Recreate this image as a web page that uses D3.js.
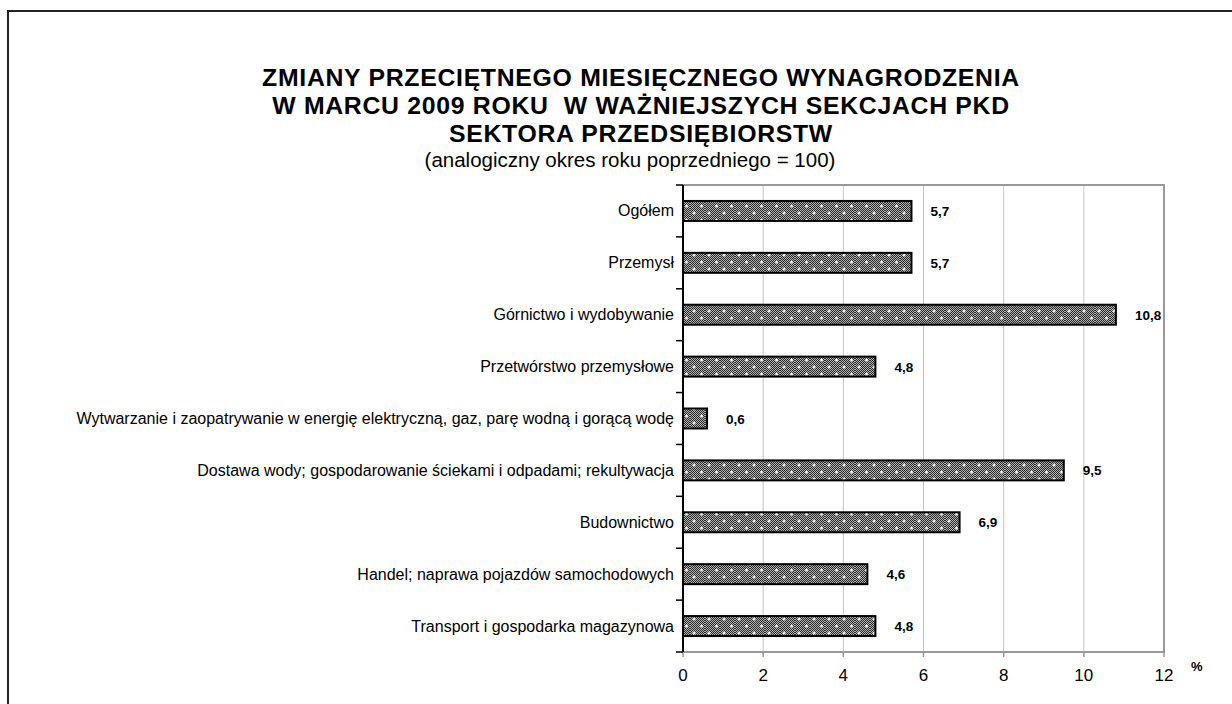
<!DOCTYPE html>
<html><head><meta charset="utf-8">
<script src="https://cdn.jsdelivr.net/npm/d3@7"></script>
<style>
html,body{margin:0;padding:0;background:#fff;}
svg{display:block;font-family:Arial,"Liberation Sans",sans-serif;}
</style></head>
<body>
<svg id="chart" width="1232" height="704"></svg>
<script>
const categories = [
  "Ogółem",
  "Przemysł",
  "Górnictwo i wydobywanie",
  "Przetwórstwo przemysłowe",
  "Wytwarzanie i zaopatrywanie w energię elektryczną, gaz, parę wodną i gorącą wodę",
  "Dostawa wody; gospodarowanie ściekami i odpadami; rekultywacja",
  "Budownictwo",
  "Handel; naprawa pojazdów samochodowych",
  "Transport i gospodarka magazynowa"
];
const values = [5.7, 5.7, 10.8, 4.8, 0.6, 9.5, 6.9, 4.6, 4.8];
const xTicks = [0, 2, 4, 6, 8, 10, 12];
const titleLines = [
  "ZMIANY PRZECIĘTNEGO MIESIĘCZNEGO WYNAGRODZENIA",
  "W MARCU 2009 ROKU  W WAŻNIEJSZYCH SEKCJACH PKD",
  "SEKTORA PRZEDSIĘBIORSTW"
];
const subtitle = "(analogiczny okres roku poprzedniego = 100)";
const unit = "%";

const svg = d3.select("#chart");
const fmt = v => String(v.toFixed(1)).replace(".", ",");

// outer frame
svg.append("rect").attr("x", 8).attr("y", 11).attr("width", 1260).attr("height", 740)
  .attr("fill", "none").attr("stroke", "#222").attr("stroke-width", 2);

// patterns
const defs = svg.append("defs");
const ck = defs.append("pattern").attr("id", "checker").attr("patternUnits", "userSpaceOnUse")
  .attr("width", 2).attr("height", 2);
ck.append("rect").attr("width", 2).attr("height", 2).attr("fill", "#b0b0b0");
ck.append("rect").attr("x", 0).attr("y", 0).attr("width", 1).attr("height", 1).attr("fill", "#2a2a2a");
ck.append("rect").attr("x", 1).attr("y", 1).attr("width", 1).attr("height", 1).attr("fill", "#2a2a2a");
const pt = defs.append("pattern").attr("id", "barpat").attr("patternUnits", "userSpaceOnUse")
  .attr("width", 15).attr("height", 14);
pt.append("rect").attr("width", 15).attr("height", 14).attr("fill", "url(#checker)");
[[4, 3], [11.5, 10]].forEach(([cx, cy]) => {
  pt.append("rect").attr("x", cx - 1.5).attr("y", cy - 0.5).attr("width", 3).attr("height", 1.2).attr("fill", "#fff");
  pt.append("rect").attr("x", cx - 0.5).attr("y", cy - 1.5).attr("width", 1.2).attr("height", 3).attr("fill", "#fff");
});

const x = d3.scaleLinear().domain([0, 12]).range([683, 1164]);
const y = d3.scaleBand().domain(categories).range([185, 652]).paddingInner(0.615).paddingOuter(0.3075);
const step = y.step();

// title
const t = svg.append("g").attr("text-anchor", "middle").attr("font-weight", "bold")
  .attr("font-size", 24.8).attr("letter-spacing", 0.7).attr("fill", "#000");
titleLines.forEach((l, i) => {
  t.append("text").attr("x", 641).attr("y", 86 + i * 28).attr("xml:space", "preserve").style("white-space", "pre").text(l);
});
svg.append("text").attr("x", 630).attr("y", 167).attr("text-anchor", "middle")
  .attr("font-size", 20.5).text(subtitle);

// gridlines
svg.append("g").selectAll("line").data(xTicks.filter(d => d > 0 && d < 12)).join("line")
  .attr("x1", d => x(d)).attr("x2", d => x(d)).attr("y1", 185).attr("y2", 656)
  .attr("stroke", "#c4c4c4").attr("stroke-width", 1);

// plot border top/right/bottom
svg.append("path")
  .attr("d", `M${x(0)},185H${x(12)}V652H${x(0)}`)
  .attr("fill", "none").attr("stroke", "#999").attr("stroke-width", 2);

// x axis ticks
svg.append("g").selectAll("line").data(xTicks).join("line")
  .attr("x1", d => x(d)).attr("x2", d => x(d)).attr("y1", 652).attr("y2", 657)
  .attr("stroke", "#999").attr("stroke-width", 1.5);
svg.append("g").selectAll("text").data(xTicks).join("text")
  .attr("x", d => x(d)).attr("y", 681).attr("text-anchor", "middle")
  .attr("font-size", 17).text(d => d);
svg.append("text").attr("x", 1191).attr("y", 671).attr("font-size", 13).attr("font-weight", "bold").text(unit);

// bars
svg.append("g").selectAll("rect").data(values).join("rect")
  .attr("x", x(0)).attr("y", (d, i) => y(categories[i]))
  .attr("width", d => x(d) - x(0)).attr("height", y.bandwidth())
  .attr("fill", "url(#barpat)").attr("stroke", "#000").attr("stroke-width", 2);

// value labels
svg.append("g").selectAll("text").data(values).join("text")
  .attr("x", d => x(d) + 19).attr("y", (d, i) => y(categories[i]) + y.bandwidth() / 2 + 5)
  .attr("font-size", 13.5).attr("font-weight", "bold").text(d => fmt(d));

// y axis
const boundaries = d3.range(categories.length + 1).map(i => 185 + i * step);
svg.append("line").attr("x1", x(0)).attr("x2", x(0)).attr("y1", 185).attr("y2", 652)
  .attr("stroke", "#000").attr("stroke-width", 2);
svg.append("g").selectAll("line").data(boundaries).join("line")
  .attr("x1", x(0) - 7).attr("x2", x(0)).attr("y1", d => d).attr("y2", d => d)
  .attr("stroke", "#000").attr("stroke-width", 1.5);
svg.append("g").selectAll("text").data(categories).join("text")
  .attr("x", 674).attr("y", d => y(d) + y.bandwidth() / 2 + 5.5)
  .attr("text-anchor", "end").attr("font-size", 16).text(d => d);
</script>
</body></html>
